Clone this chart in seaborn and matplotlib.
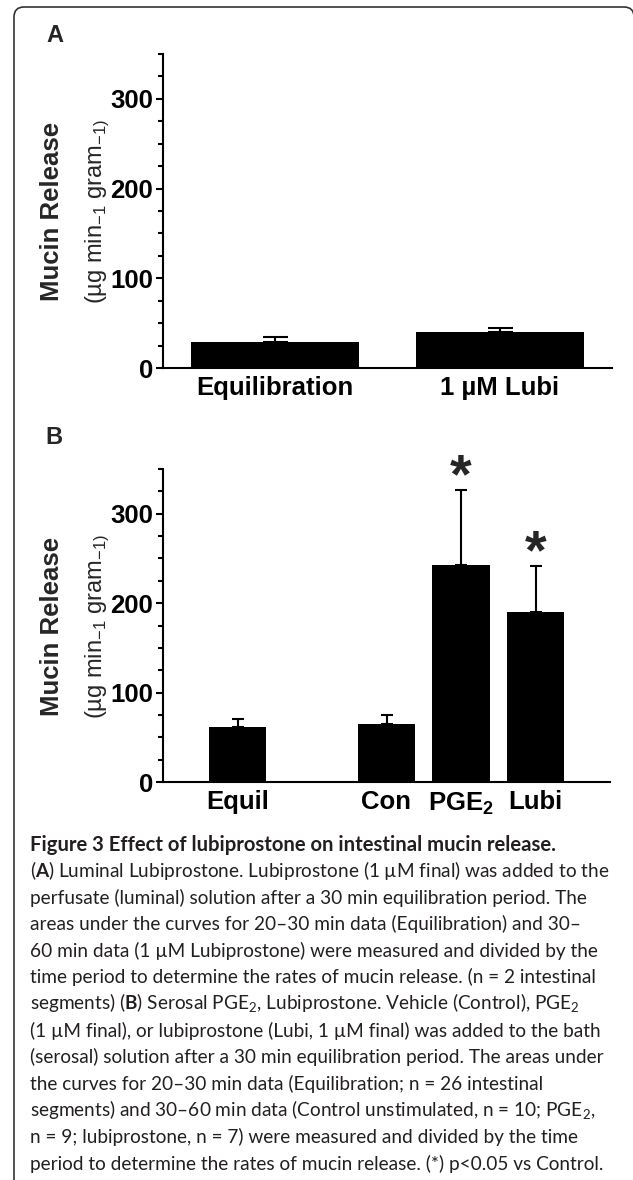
import matplotlib
matplotlib.use("Agg")
import matplotlib.pyplot as plt
import pandas as pd
import seaborn as sns
from matplotlib.patches import FancyBboxPatch
from matplotlib.ticker import MultipleLocator
from matplotlib.transforms import IdentityTransform

# ---- data ----
# panel A: luminal lubiprostone
a_groups = ["Equilibration", "1 µM Lubi"]
a_mean = [29, 40]
a_sem = [5, 5]

# panel B: serosal PGE2 / lubiprostone (empty slot between Equil and Con)
b_groups = ["Equil", "Con", "PGE$_\\mathregular{2}$", "Lubi"]
b_mean = [62, 65, 243, 190]
b_sem = [8, 10, 83, 51]
b_signif = [False, False, True, True]

y_major = [0, 100, 200, 300]
y_max = 350

caption_title = "Figure 3 Effect of lubiprostone on intestinal mucin release."
caption_lines = [
    "($\\mathbf{A}$) Luminal Lubiprostone. Lubiprostone (1 µM final) was added to the",
    "perfusate (luminal) solution after a 30 min equilibration period. The",
    "areas under the curves for 20–30 min data (Equilibration) and 30–",
    "60 min data (1 µM Lubiprostone) were measured and divided by the",
    "time period to determine the rates of mucin release. (n = 2 intestinal",
    "segments) ($\\mathbf{B}$) Serosal PGE$_\\mathregular{2}$, Lubiprostone. Vehicle (Control), PGE$_\\mathregular{2}$",
    "(1 µM final), or lubiprostone (Lubi, 1 µM final) was added to the bath",
    "(serosal) solution after a 30 min equilibration period. The areas under",
    "the curves for 20–30 min data (Equilibration; n = 26 intestinal",
    "segments) and 30–60 min data (Control unstimulated, n = 10; PGE$_\\mathregular{2}$,",
    "n = 9; lubiprostone, n = 7) were measured and divided by the time",
    "period to determine the rates of mucin release. (*) p<0.05 vs Control.",
]

sns.set_style("ticks")
plt.rcParams["font.family"] = ["Liberation Sans", "DejaVu Sans"]
plt.rcParams["mathtext.fontset"] = "custom"
plt.rcParams["mathtext.rm"] = "Lato"
plt.rcParams["mathtext.bf"] = "Lato:bold"

W, H = 633, 1180
fig = plt.figure(figsize=(W / 100, H / 100), dpi=100)
fig.patch.set_facecolor("white")


def fx(px):
    return px / W


def fy(py):
    return 1 - py / H


def style_axis(ax):
    ax.set_ylim(0, y_max)
    ax.set_yticks(y_major)
    ax.yaxis.set_minor_locator(MultipleLocator(25))
    sns.despine(ax=ax)
    for side in ["left", "bottom"]:
        ax.spines[side].set_linewidth(1.5)
        ax.spines[side].set_color("black")
    ax.tick_params(axis="y", which="major", length=5, width=1.5, pad=2,
                   labelsize=18.5, colors="black")
    ax.tick_params(axis="y", which="minor", length=3.3, width=1.5, colors="black")
    ax.tick_params(axis="x", length=0, pad=6, labelsize=18.5, colors="black")
    ax.set_xlabel("")
    ax.set_ylabel("")
    for lab in ax.get_yticklabels() + ax.get_xticklabels():
        lab.set_fontweight("bold")
    ax.set_facecolor("white")


def ylabel_pair(y_center):
    fig.text(fx(52), fy(y_center), "Mucin Release", rotation=90, ha="center",
             va="center", fontsize=18.5, fontweight="bold")
    fig.text(fx(97), fy(y_center), "(µg min$_{\\mathregular{-1}}$ gram$_{\\mathregular{-1)}}$",
             rotation=90, ha="center", va="center", fontsize=17)


def upper_errors(ax, xpos, means, sems, cap):
    ax.errorbar(xpos, means, yerr=[[0] * len(sems), sems], fmt="none",
                ecolor="black", elinewidth=1.5, capsize=cap, capthick=1.5, zorder=3)


# ---- panel A ----
ax_a = fig.add_axes([fx(163), fy(368), fx(612) - fx(163), fy(54) - fy(368)])
sns.barplot(x=a_groups, y=a_mean, color="black", saturation=1, width=0.75,
            errorbar=None, linewidth=0, ax=ax_a)
upper_errors(ax_a, list(range(len(a_groups))), a_mean, a_sem, 9)
ax_a.set_xlim(-0.5, len(a_groups) - 0.5)
style_axis(ax_a)
ylabel_pair(211)
fig.text(fx(55), fy(36), "A", ha="center", va="center", fontsize=17, fontweight="bold")

# ---- panel B ----
b_order = [b_groups[0], " "] + b_groups[1:]
b_df = pd.DataFrame({"group": b_groups, "release": b_mean})
b_pos = [b_order.index(g) for g in b_groups]
ax_b = fig.add_axes([fx(163), fy(782), fx(610) - fx(163), fy(469) - fy(782)])
sns.barplot(data=b_df, x="group", y="release", order=b_order, color="black",
            saturation=1, width=0.77, errorbar=None, linewidth=0, ax=ax_b)
upper_errors(ax_b, b_pos, b_mean, b_sem, 4.3)
ax_b.set_xlim(-1, len(b_order))
ax_b.set_xticks(b_pos, labels=b_groups)
style_axis(ax_b)
for x, m, s, sig in zip(b_pos, b_mean, b_sem, b_signif):
    if sig:
        ax_b.annotate("*", xy=(x, m + s), xytext=(0, 9), textcoords="offset points",
                      ha="center", va="center", fontsize=40, fontweight="bold")
ylabel_pair(626)
fig.text(fx(54), fy(437), "B", ha="center", va="center", fontsize=17, fontweight="bold")

# ---- caption ----
fig.text(fx(30), fy(851), caption_title, ha="left", va="baseline",
         fontsize=14.6, fontweight="bold", family="Lato", color="#231f20")
for i, line in enumerate(caption_lines):
    fig.text(fx(30), fy(877 + i * 26.6), line, ha="left", va="baseline",
             fontsize=13.7, family="Lato", color="#231f20")

# rounded frame around the figure (right and bottom edges run off the page)
frame = FancyBboxPatch((14, -15), 620, 1188, boxstyle="round,pad=0,rounding_size=10",
                       transform=IdentityTransform(), fill=False,
                       edgecolor="#333333", linewidth=1.2)
fig.add_artist(frame)

fig.savefig("out.png", dpi=100)
